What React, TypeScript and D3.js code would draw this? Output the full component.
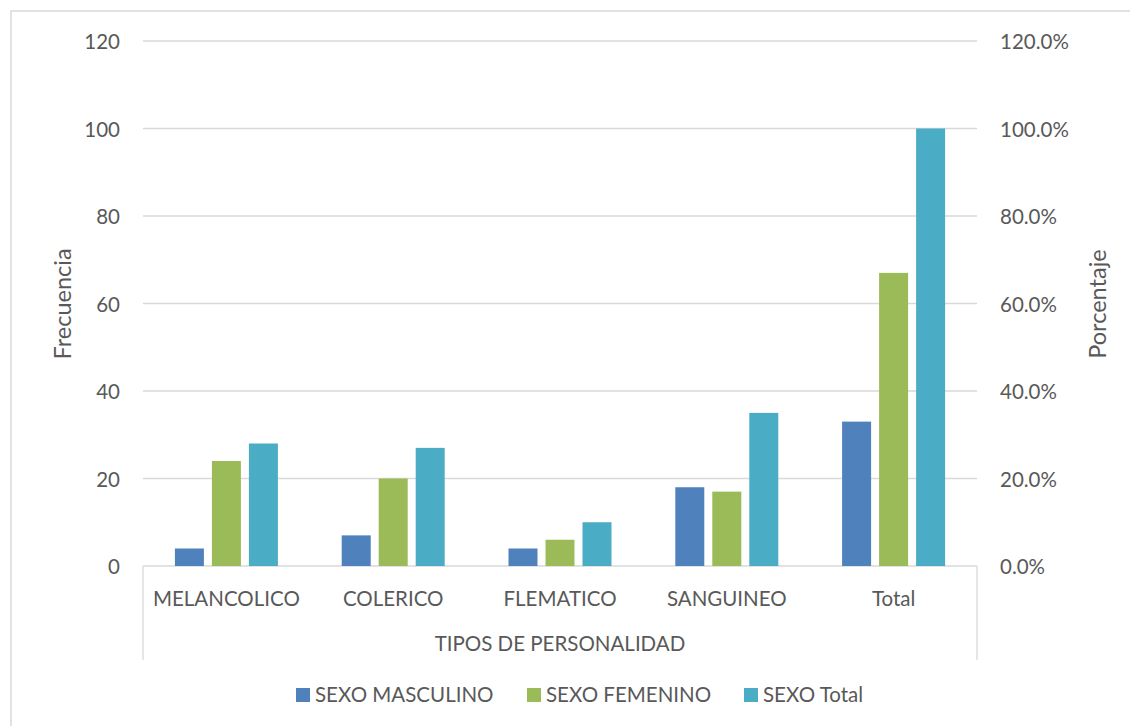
import React from "react";
import * as d3 from "d3";

const categories = ["MELANCOLICO", "COLERICO", "FLEMATICO", "SANGUINEO", "Total"];
const seriesNames = ["SEXO MASCULINO", "SEXO FEMENINO", "SEXO Total"];
const masculino = [4, 7, 4, 18, 33];
const femenino = [24, 20, 6, 17, 67];
const total = [28, 27, 10, 35, 100];
const leftTicks = [0, 20, 40, 60, 80, 100, 120];
const rightTicks = [0, 0.2, 0.4, 0.6, 0.8, 1.0, 1.2];
const colors = ["#4F81BD", "#9BBB59", "#4BACC6"];

const W = 1130;
const H = 726;
const plot = { left: 143, right: 977, top: 41, bottom: 566 };
const FONT = "Lato, 'Open Sans', sans-serif";
const FS = 20.5;
const TITLE_FS = 23.5;
const TEXT = "#595959";

export default function App() {
  const values = [masculino, femenino, total];
  const x0 = d3.scaleBand<string>().domain(categories).range([plot.left, plot.right]).padding(0);
  const x1 = d3
    .scaleBand<string>()
    .domain(seriesNames)
    .range([0, x0.bandwidth()])
    .paddingInner(8 / 37)
    .paddingOuter(0.862);
  const y = d3.scaleLinear().domain([0, 120]).range([plot.bottom, plot.top]);
  const yr = d3.scaleLinear().domain([0, 1.2]).range([plot.bottom, plot.top]);
  const pct = d3.format(".1%");
  const titleY = 304;

  const legendItems = [
    { x: 296, name: seriesNames[0], color: colors[0] },
    { x: 527, name: seriesNames[1], color: colors[1] },
    { x: 744, name: seriesNames[2], color: colors[2] },
  ];

  return (
    <svg width={W} height={H} style={{ position: "absolute", left: 0, top: 0, background: "#fff" }}>
      <rect x={0} y={0} width={W} height={H} fill="#fff" />
      <rect x={11} y={11} width={W + 20} height={H + 20} fill="none" stroke="#D9D9D9" strokeWidth={1.5} />
      {leftTicks.map((t) => (
        <line key={"g" + t} x1={plot.left} x2={plot.right} y1={y(t)} y2={y(t)} stroke="#D9D9D9" strokeWidth={1.3} />
      ))}
      <line x1={plot.left} x2={plot.left} y1={plot.bottom} y2={660} stroke="#D9D9D9" strokeWidth={1.3} />
      <line x1={plot.right} x2={plot.right} y1={plot.bottom} y2={660} stroke="#D9D9D9" strokeWidth={1.3} />
      {categories.map((c, i) => (
        <g key={c}>
          {values.map((vals, s) => (
            <rect
              key={s}
              x={(x0(c) as number) + (x1(seriesNames[s]) as number)}
              y={y(vals[i])}
              width={x1.bandwidth()}
              height={plot.bottom - y(vals[i])}
              fill={colors[s]}
            />
          ))}
          <text
            x={(x0(c) as number) + x0.bandwidth() / 2}
            y={598}
            textAnchor="middle"
            dominantBaseline="central"
            fontFamily={FONT}
            fontSize={FS}
            fill={TEXT}
          >
            {c}
          </text>
        </g>
      ))}
      {leftTicks.map((t) => (
        <text key={"l" + t} x={120} y={y(t)} textAnchor="end" dominantBaseline="central" fontFamily={FONT} fontSize={FS} fill={TEXT}>
          {t}
        </text>
      ))}
      {rightTicks.map((t) => (
        <text key={"r" + t} x={1000} y={yr(t)} textAnchor="start" dominantBaseline="central" fontFamily={FONT} fontSize={FS} fill={TEXT}>
          {pct(t)}
        </text>
      ))}
      <text
        transform={`translate(62,${titleY}) rotate(-90)`}
        textAnchor="middle"
        dominantBaseline="central"
        fontFamily={FONT}
        fontSize={TITLE_FS}
        fill={TEXT}
      >
        Frecuencia
      </text>
      <text
        transform={`translate(1097,${titleY}) rotate(-90)`}
        textAnchor="middle"
        dominantBaseline="central"
        fontFamily={FONT}
        fontSize={TITLE_FS}
        fill={TEXT}
      >
        Porcentaje
      </text>
      <text x={(plot.left + plot.right) / 2} y={643} textAnchor="middle" dominantBaseline="central" fontFamily={FONT} fontSize={FS} fill={TEXT}>
        TIPOS DE PERSONALIDAD
      </text>
      {legendItems.map((it) => (
        <g key={it.name}>
          <rect x={it.x} y={688} width={14} height={14} fill={it.color} />
          <text x={it.x + 19} y={694} dominantBaseline="central" fontFamily={FONT} fontSize={FS} fill={TEXT}>
            {it.name}
          </text>
        </g>
      ))}
    </svg>
  );
}
